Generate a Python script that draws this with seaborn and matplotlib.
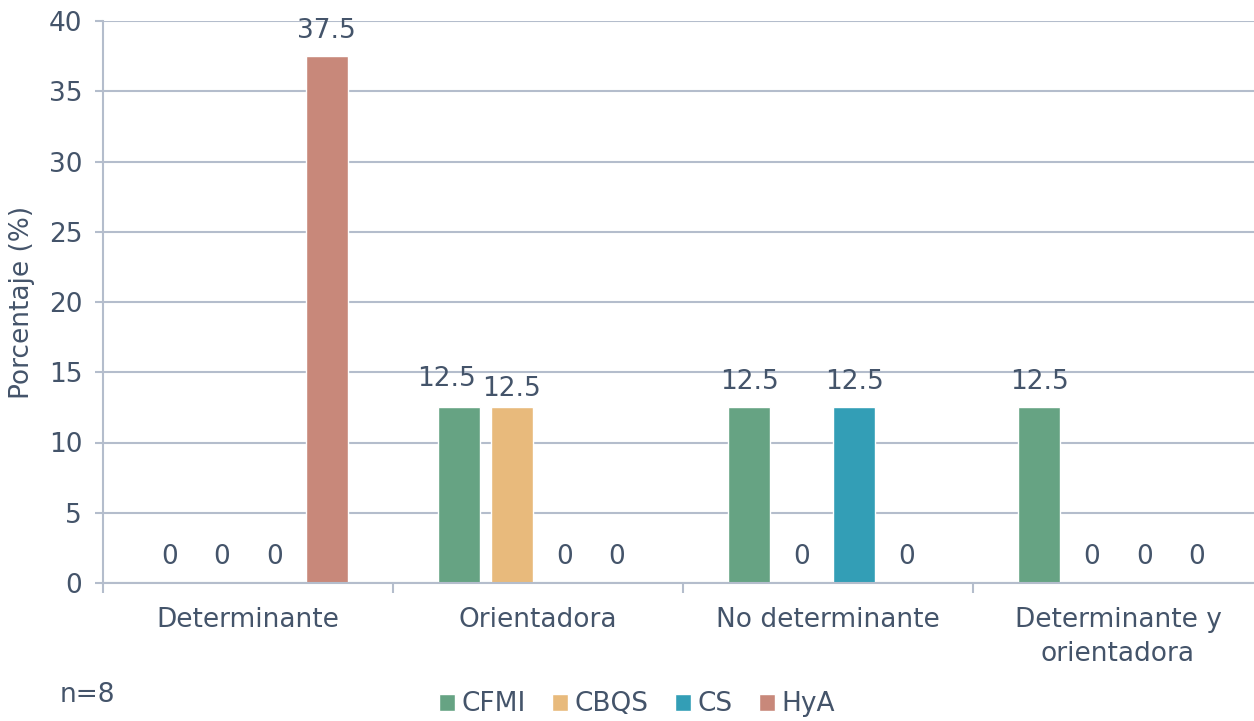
import pandas as pd
import numpy as np
import matplotlib.pyplot as plt
import seaborn as sns

# Datos
categorias = ['Determinante', 'Orientadora', 'No determinante', 'Determinante y\norientadora']
series = ['CFMI', 'CBQS', 'CS', 'HyA']
cfmi = [0, 12.5, 12.5, 12.5]
cbqs = [0, 12.5, 0, 0]
cs = [0, 0, 12.5, 0]
hya = [37.5, 0, 0, 0]
colores = ['#66A383', '#E8BA7C', '#339EB6', '#C8887A']

valores = {'CFMI': cfmi, 'CBQS': cbqs, 'CS': cs, 'HyA': hya}
df = pd.DataFrame([
    {'Categoria': c, 'Serie': s, 'Porcentaje': valores[s][i]}
    for s in series for i, c in enumerate(categorias)
])

txt = '#44546A'
grid_c = '#B4BDCC'
fs = 19

sns.set_theme(style='white')
plt.rcParams['font.family'] = ['DejaVu Sans']

fig = plt.figure(figsize=(12.54, 7.21), dpi=100)
ax = fig.add_axes([103 / 1254, 1 - 583 / 721, 1160 / 1254, 562 / 721])

sns.barplot(data=df, x='Categoria', y='Porcentaje', hue='Serie',
            order=categorias, hue_order=series, palette=colores,
            width=0.724, gap=0.2, saturation=1, ax=ax, legend=True)

etiquetas = []
for cont in ax.containers:
    etiquetas.append(ax.bar_label(cont, fmt='%g', padding=9, fontsize=fs, color=txt))

# separar las dos etiquetas de 12.5 en "Orientadora" como en el original
etiquetas[0][1].xyann = (-9, 11)
etiquetas[1][1].xyann = (0, 4)

ax.set_ylim(0, 40)
ax.set_yticks(np.arange(0, 41, 5))
ax.set_xlim(-0.5, 3.5)
ax.grid(axis='y', color=grid_c, linewidth=1.5)
ax.set_axisbelow(True)
for s in ['top', 'right']:
    ax.spines[s].set_visible(False)
for s in ['left', 'bottom']:
    ax.spines[s].set_color(grid_c)
    ax.spines[s].set_linewidth(1.5)

ax.tick_params(axis='y', length=6, width=1.5, color=grid_c, pad=9,
               labelsize=fs, labelcolor=txt, left=True)
ax.set_xticks([-0.5, 0.5, 1.5, 2.5, 3.5], minor=True)
ax.tick_params(axis='x', which='minor', length=7, width=1.5, color=grid_c, bottom=True)
ax.tick_params(axis='x', which='major', length=0, pad=17, labelsize=fs, labelcolor=txt)
for lbl in ax.get_xticklabels():
    lbl.set_linespacing(1.4)

ax.set_xlabel('')
ax.set_ylabel('Porcentaje (%)', fontsize=fs, color=txt, labelpad=10)

handles, labels = ax.get_legend_handles_labels()
ax.get_legend().remove()
fig.legend(handles, labels, loc='lower center', bbox_to_anchor=(0.508, -0.028),
           ncol=4, frameon=False, fontsize=fs, labelcolor=txt,
           handlelength=0.6, handleheight=0.6, handletextpad=0.25,
           columnspacing=1.0)

fig.text(60 / 1254, 1 - 695 / 721, 'n=8', fontsize=fs, color=txt, va='center')

plt.savefig('out.png', dpi=100)
